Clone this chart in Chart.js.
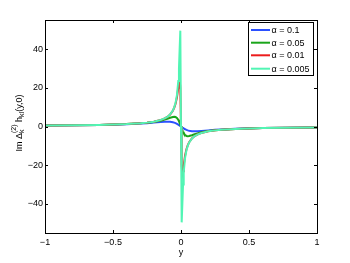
<!DOCTYPE html>
<html>
<head>
<meta charset="utf-8">
<script src="https://cdn.jsdelivr.net/npm/chart.js@4/dist/chart.umd.min.js"></script>
<style>
  html, body { margin: 0; padding: 0; background: #fff; }
  #wrap { width: 350px; height: 263px; }
</style>
</head>
<body>
<div id="wrap"><canvas id="c" width="350" height="263"></canvas></div>
<script>
// sample positions along y
const yPos = [-1, -0.8, -0.6, -0.5, -0.4, -0.3, -0.25, -0.2, -0.15, -0.12, -0.1, -0.08, -0.06, -0.05, -0.04, -0.03, -0.02, -0.015, -0.01, -0.005, 0,
  0.005, 0.01, 0.015, 0.02, 0.03, 0.04, 0.05, 0.06, 0.08, 0.1, 0.12, 0.15, 0.2, 0.25, 0.3, 0.4, 0.5, 0.6, 0.8, 1];

const seriesNames = ["\u03b1 = 0.1", "\u03b1 = 0.05", "\u03b1 = 0.01", "\u03b1 = 0.005"];
const seriesColors = ["#2b50ff", "#1aa51a", "#ec1c1c", "#52f5b4"];

const alpha01 = [0.5, 0.62, 0.81, 0.96, 1.18, 1.5, 1.72, 2.0, 2.31, 2.46, 2.5, 2.44, 2.21, 2.0, 1.72, 1.38, 0.96, 0.73, 0.5, 0.25, 0,
  -0.25, -0.5, -0.73, -0.96, -1.38, -1.72, -2.0, -2.21, -2.44, -2.5, -2.46, -2.31, -2.0, -1.72, -1.5, -1.18, -0.96, -0.81, -0.62, -0.5];
const alpha005 = [0.5, 0.62, 0.83, 0.99, 1.23, 1.62, 1.92, 2.35, 3.0, 3.55, 4.0, 4.49, 4.92, 5.0, 4.88, 4.41, 3.45, 2.75, 1.92, 0.99, 0,
  -0.99, -1.92, -2.75, -3.45, -4.41, -4.88, -5.0, -4.92, -4.49, -4.0, -3.55, -3.0, -2.35, -1.92, -1.62, -1.23, -0.99, -0.83, -0.62, -0.5];
const alpha001 = [0.5, 0.63, 0.83, 1.0, 1.25, 1.67, 2.0, 2.49, 3.32, 4.14, 4.95, 6.15, 8.11, 9.62, 11.76, 15.0, 20.0, 23.08, 24.5, 20.0, 0,
  -20.0, -24.5, -23.08, -20.0, -15.0, -11.76, -9.62, -8.11, -6.15, -4.95, -4.14, -3.32, -2.49, -2.0, -1.67, -1.25, -1.0, -0.83, -0.63, -0.5];
const alpha0005 = [0.5, 0.63, 0.83, 1.0, 1.25, 1.67, 2.0, 2.5, 3.33, 4.16, 4.99, 6.23, 8.28, 9.9, 12.31, 16.22, 23.53, 30.0, 40.0, 49.5, 0,
  -49.5, -40.0, -30.0, -23.53, -16.22, -12.31, -9.9, -8.28, -6.23, -4.99, -4.16, -3.33, -2.5, -2.0, -1.67, -1.25, -1.0, -0.83, -0.63, -0.5];

const xTicks = [-1, -0.5, 0, 0.5, 1];
const yTicks = [-40, -20, 0, 20, 40];

const FONT = "'Liberation Sans', Arial, Helvetica, sans-serif";
const allSeries = [alpha01, alpha005, alpha001, alpha0005];

const datasets = allSeries.map((vals, i) => ({
  label: seriesNames[i],
  data: yPos.map((x, j) => ({ x, y: vals[j] })),
  borderColor: seriesColors[i],
  borderWidth: 2,
  pointRadius: 0,
  tension: 0,
  fill: false,
  order: allSeries.length - i,
}));

// box, inward ticks, y label with sub/superscripts, legend
const matlabAxes = {
  id: "matlabAxes",
  afterDraw(chart) {
    const { ctx, chartArea: a, scales } = chart;
    const xs = scales.x, ys = scales.y;
    ctx.save();
    ctx.strokeStyle = "#000";
    ctx.lineWidth = 1;
    ctx.strokeRect(Math.round(a.left) + 0.5, Math.round(a.top) + 0.5,
      Math.round(a.right - a.left), Math.round(a.bottom - a.top));
    ctx.beginPath();
    const tl = 3;
    xTicks.forEach(v => {
      const px = Math.round(xs.getPixelForValue(v)) + 0.5;
      ctx.moveTo(px, a.bottom); ctx.lineTo(px, a.bottom - tl);
      ctx.moveTo(px, a.top); ctx.lineTo(px, a.top + tl);
    });
    yTicks.forEach(v => {
      const py = Math.round(ys.getPixelForValue(v)) + 0.5;
      ctx.moveTo(a.left, py); ctx.lineTo(a.left + tl, py);
      ctx.moveTo(a.right, py); ctx.lineTo(a.right - tl, py);
    });
    ctx.stroke();

    // y axis label: Im Δ_k^(2) h_kl(y,0)
    ctx.translate(21.5, 123);
    ctx.rotate(-Math.PI / 2);
    ctx.fillStyle = "#000";
    ctx.textBaseline = "alphabetic";
    const big = "9px " + FONT, small = "7px " + FONT;
    const parts = [
      { t: "Im \u0394", f: big, dy: 0 },
      { stack: [{ t: "k", f: small, dy: 2.5 }, { t: "(2)", f: small, dy: -6 }] },
      { t: " h", f: big, dy: 0 },
      { t: "kl", f: small, dy: 2.5 },
      { t: "(y,0)", f: big, dy: 0 },
    ];
    const widthOf = p => {
      if (p.stack) return Math.max(...p.stack.map(widthOf));
      ctx.font = p.f; return ctx.measureText(p.t).width;
    };
    const total = parts.reduce((s, p) => s + widthOf(p), 0);
    let cx = -total / 2;
    parts.forEach(p => {
      const items = p.stack || [p];
      items.forEach(q => { ctx.font = q.f; ctx.fillText(q.t, cx, q.dy); });
      cx += widthOf(p);
    });
    ctx.restore();

    // legend
    ctx.save();
    const lx = 248, ly = 22, lw = 65, lh = 53;
    ctx.fillStyle = "#fff";
    ctx.fillRect(lx, ly, lw, lh);
    ctx.strokeStyle = "#000";
    ctx.lineWidth = 1;
    ctx.strokeRect(lx + 0.5, ly + 0.5, lw, lh);
    ctx.font = "9px " + FONT;
    ctx.textBaseline = "middle";
    const rows = [30, 42.7, 55.3, 68.7];
    seriesNames.forEach((name, i) => {
      ctx.strokeStyle = seriesColors[i];
      ctx.lineWidth = 2;
      ctx.beginPath();
      ctx.moveTo(251, rows[i]); ctx.lineTo(270, rows[i]);
      ctx.stroke();
      ctx.fillStyle = "#000";
      ctx.fillText(name, 271.5, rows[i] + 0.5);
    });
    ctx.restore();
  }
};

new Chart(document.getElementById("c"), {
  type: "line",
  data: { datasets },
  plugins: [matlabAxes],
  options: {
    responsive: false,
    animation: false,
    events: [],
    layout: { padding: { top: 20, right: 33, left: 0, bottom: 0 } },
    plugins: { legend: { display: false }, tooltip: { enabled: false } },
    scales: {
      x: {
        type: "linear",
        min: -1, max: 1,
        afterFit(s) { s.height = 30; },
        afterBuildTicks(s) { s.ticks = xTicks.map(v => ({ value: v })); },
        grid: { display: false, drawTicks: false },
        border: { display: false },
        ticks: { color: "#000", padding: 4, font: { family: FONT, size: 9 }, maxRotation: 0,
          callback: v => String(v).replace("-", "\u2212") },
        title: { display: true, text: "y", color: "#000", font: { family: FONT, size: 9 }, padding: { top: 0, bottom: 5 } },
      },
      y: {
        type: "linear",
        min: -55, max: 55,
        afterFit(s) { s.width = 45; },
        afterBuildTicks(s) { s.ticks = yTicks.map(v => ({ value: v })); },
        grid: { display: false, drawTicks: false },
        border: { display: false },
        ticks: { color: "#000", padding: 2, font: { family: FONT, size: 9 },
          callback: v => String(v).replace("-", "\u2212") },
      },
    },
  },
});
</script>
</body>
</html>
